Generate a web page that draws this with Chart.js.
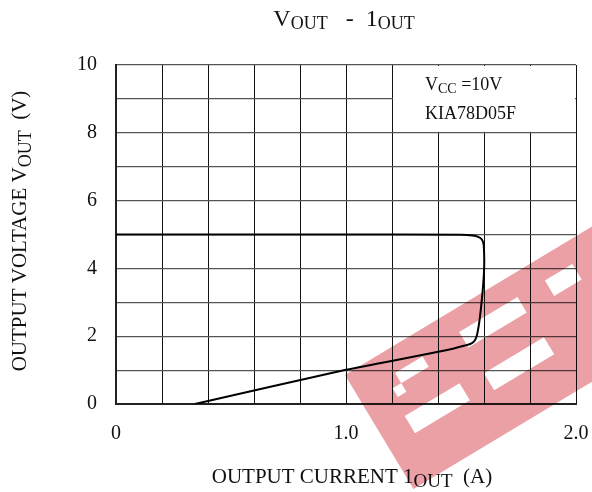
<!DOCTYPE html>
<html>
<head>
<meta charset="utf-8">
<script src="https://cdn.jsdelivr.net/npm/chart.js@4"></script>
<style>
  html, body { margin:0; padding:0; background:#fff; }
  #wrap { width:592px; height:492px; position:relative; }
</style>
</head>
<body>
<div id="wrap"><canvas id="chart-vout"></canvas></div>
<script>
// ============ DADOS ============
var correnteA = [0, 1.0, 1.5, 1.55, 1.575, 1.59, 1.598, 1.601, 1.600, 1.595, 1.588, 1.578, 1.568, 1.556, 1.540, 1.520, 1.44, 1.22, 1.0, 0.343];
var tensaoV   = [5.0, 5.0, 4.99, 4.97, 4.93, 4.86, 4.72, 4.3, 3.9, 3.4, 2.9, 2.35, 2.0, 1.84, 1.77, 1.73, 1.59, 1.30, 1.01, 0];
var xTickLabels = ['0', '1.0', '2.0'];
var yTickLabels = [0, 2, 4, 6, 8, 10];
var notaVcc = '=10V';
var notaModelo = 'KIA78D05F';

var SERIF = '"Liberation Serif", "Times New Roman", serif';

// desenha texto com subscritos: partes = [[texto, tamanho, deslocamento]]
function textoSub(ctx, partes, x, y, align) {
  var total = 0;
  partes.forEach(function(p) {
    ctx.font = p[1] + 'px ' + SERIF;
    p.w = ctx.measureText(p[0]).width;
    total += p.w;
  });
  var cx = align === 'center' ? x - total / 2 : x;
  ctx.textBaseline = 'alphabetic';
  ctx.textAlign = 'left';
  partes.forEach(function(p) {
    ctx.font = p[1] + 'px ' + SERIF;
    ctx.fillText(p[0], cx, y + p[2]);
    cx += p.w;
  });
}

var pluginTextos = {
  id: 'textos',
  beforeDatasetsDraw: function(chart) {
    var ctx = chart.ctx, xs = chart.scales.x, ys = chart.scales.y;
    // caixa da nota (cobre a grade)
    var x0 = xs.getPixelForValue(1.2), x1 = xs.getPixelForValue(2.0);
    var y0 = ys.getPixelForValue(10), y1 = ys.getPixelForValue(8);
    ctx.save();
    ctx.fillStyle = '#fff';
    ctx.fillRect(x0 + 1, y0 + 1, x1 - x0 - 2, y1 - y0 - 2);
    ctx.fillStyle = '#111';
    textoSub(ctx, [['V', 18, 0], ['CC', 14, 3], [' ' + notaVcc, 18, 0]], 425, 90, 'left');
    textoSub(ctx, [[notaModelo, 18, 0]], 425, 119, 'left');
    ctx.restore();
  },
  afterDraw: function(chart) {
    var ctx = chart.ctx;
    ctx.save();
    ctx.fillStyle = '#111';
    // titulo
    textoSub(ctx, [['V', 24, 0], ['OUT', 18, 3], ['   -  1', 24, 0], ['OUT', 18, 3]], 344, 26, 'center');
    // titulo eixo x
    textoSub(ctx, [['OUTPUT CURRENT 1', 21, 0], ['OUT', 19, 4], ['  (A)', 21, 0]], 352, 483, 'center');
    // titulo eixo y
    ctx.translate(26, 231);
    ctx.rotate(-Math.PI / 2);
    textoSub(ctx, [['OUTPUT VOLTAGE V', 21, 0], ['OUT', 18, 5], ['  (V)', 21, 0]], 0, 0, 'center');
    ctx.restore();

    // marca d'agua
    ctx.save();
    ctx.globalCompositeOperation = 'multiply';
    ctx.fillStyle = '#eba0a6';
    ctx.translate(345, 375);
    ctx.rotate(-31 * Math.PI / 180);
    ctx.beginPath();
    ctx.rect(0, 0, 450, 133);
    ctx.rect(34, 24, 42, 12);
    ctx.rect(34, 24, 10, 22);
    ctx.rect(30, 66, 64, 20);
    ctx.rect(120, 22, 68, 18);
    ctx.rect(120, 70, 70, 20);
    ctx.rect(220, 22, 32, 18);
    ctx.fill('evenodd');
    ctx.restore();
  }
};

var pontos = correnteA.map(function(v, i) { return { x: v, y: tensaoV[i] }; });

new Chart(document.getElementById('chart-vout'), {
  type: 'scatter',
  data: {
    datasets: [{
      data: pontos,
      showLine: true,
      borderColor: '#000',
      borderWidth: 2,
      pointRadius: 0,
      tension: 0.15,
      fill: false
    }]
  },
  options: {
    responsive: true,
    maintainAspectRatio: false,
    animation: false,
    layout: { padding: { left: 0, top: 65, right: 0, bottom: 0 } },
    plugins: { legend: { display: false }, tooltip: { enabled: false } },
    scales: {
      x: {
        type: 'linear', min: 0, max: 2.0,
        afterFit: function(s) { s.height = 88; s.paddingRight = 16; },
        border: { color: '#222', width: 2 },
        grid: { color: '#111', lineWidth: 1, drawTicks: false },
        ticks: {
          stepSize: 0.2, padding: 18, color: '#111', maxRotation: 0, autoSkip: false,
          font: { family: SERIF, size: 20 },
          callback: function(v) {
            var idx = Math.round(v);
            return Math.abs(v - idx) < 1e-6 ? xTickLabels[idx] : '';
          }
        }
      },
      y: {
        type: 'linear', min: 0, max: 10,
        afterFit: function(s) { s.width = 116; },
        border: { color: '#222', width: 2 },
        grid: { color: '#555', lineWidth: 1.2, drawTicks: false },
        ticks: {
          stepSize: 1, padding: 19, color: '#111', autoSkip: false,
          font: { family: SERIF, size: 20 },
          callback: function(v) { return yTickLabels.indexOf(v) >= 0 ? String(v) : ''; }
        }
      }
    }
  },
  plugins: [pluginTextos]
});
</script>
</body>
</html>
